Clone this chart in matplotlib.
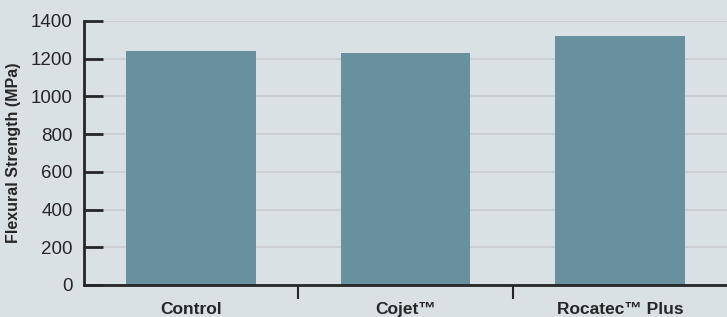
import matplotlib.pyplot as plt
import numpy as np

categories = ['Control', 'Cojet™', 'Rocatec™ Plus']
strength = [1238, 1232, 1322]
y_ticks = [0, 200, 400, 600, 800, 1000, 1200, 1400]

plt.rcParams['font.family'] = ['Liberation Sans', 'DejaVu Sans']

bg = '#dae1e5'
ink = '#262626'
fig = plt.figure(figsize=(7.27, 3.17), dpi=100, facecolor=bg)
ax = fig.add_axes([0.1155, 0.101, 0.8845, 0.833], facecolor=bg)

x = np.arange(len(categories))
ax.bar(x, strength, width=0.605, color='#68909f', zorder=2)

ax.set_xlim(-0.5, 2.5)
ax.set_ylim(0, 1400)
ax.set_yticks(y_ticks)
ax.yaxis.grid(True, color='#cbcfd2', linewidth=1.3, zorder=0)
ax.tick_params(axis='y', direction='in', length=14, width=2, color=ink,
               labelsize=13.5, labelcolor=ink, pad=8)

ax.set_xticks(x)
ax.set_xticklabels(categories, fontweight='bold', fontsize=12.5, color=ink)
ax.tick_params(axis='x', which='major', length=0, pad=12)
ax.set_xticks([0.5, 1.5], minor=True)
ax.tick_params(axis='x', which='minor', direction='out', length=10, width=1.5,
               color=ink)

ax.set_ylabel('Flexural Strength (MPa)', fontweight='bold', fontsize=11.5,
              color=ink, labelpad=7)

for side in ['top', 'right']:
    ax.spines[side].set_visible(False)
for side in ['left', 'bottom']:
    ax.spines[side].set_linewidth(2)
    ax.spines[side].set_color(ink)

plt.savefig('out.png', dpi=100, facecolor=bg)
